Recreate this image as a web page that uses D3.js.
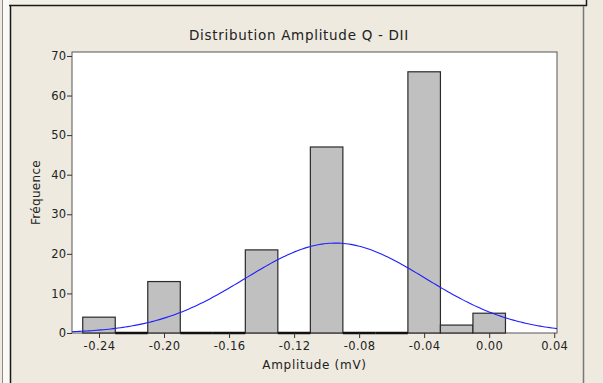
<!DOCTYPE html>
<html>
<head>
<meta charset="utf-8">
<script src="https://cdn.jsdelivr.net/npm/d3@7"></script>
<style>
  html, body { margin: 0; padding: 0; background: #eeeae0; }
  svg { display: block; }
  text { font-family: "DejaVu Sans", sans-serif; fill: #222; }
</style>
</head>
<body>
<div id="chart"></div>
<script>
// Data
var binCenters = [-0.24, -0.22, -0.20, -0.18, -0.16, -0.14, -0.12, -0.10, -0.08, -0.06, -0.04, -0.02, 0.00];
var counts     = [4, 0, 13, 0, 0, 21, 0, 47, 0, 0, 66, 2, 5];
var binWidth = 0.02;
var xTicks = [-0.24, -0.20, -0.16, -0.12, -0.08, -0.04, 0.00, 0.04];
var yTicks = [0, 10, 20, 30, 40, 50, 60, 70];
// normal fit parameters (estimated)
var fitMean = -0.0946;
var fitSd = 0.0555;

var width = 603, height = 383;
var plot = {left: 72, right: 557, top: 52, bottom: 333};

var svg = d3.select("#chart").append("svg")
    .attr("width", width)
    .attr("height", height);

// frame of the graph window
svg.append("rect").attr("x", 0).attr("y", 0).attr("width", width).attr("height", height).attr("fill", "#eeeae0");
svg.append("rect").attr("x", 3).attr("y", 0).attr("width", 7).attr("height", height).attr("fill", "#fbfaf7");
svg.append("line").attr("x1", 2.5).attr("x2", 2.5).attr("y1", 0).attr("y2", height).attr("stroke", "#8a8a8a");
svg.append("rect").attr("x", 9).attr("y", 0).attr("width", 577).attr("height", 5).attr("fill", "#f3f0e8");
svg.append("line").attr("x1", 9).attr("x2", 587).attr("y1", 5.5).attr("y2", 5.5).attr("stroke", "#1a1a1a").attr("stroke-width", 1.5);
svg.append("line").attr("x1", 586.5).attr("x2", 586.5).attr("y1", 0).attr("y2", 6).attr("stroke", "#1a1a1a").attr("stroke-width", 1.5);
svg.append("line").attr("x1", 10.5).attr("x2", 10.5).attr("y1", 5).attr("y2", height).attr("stroke", "#1a1a1a").attr("stroke-width", 1.5);
svg.append("line").attr("x1", 583.5).attr("x2", 583.5).attr("y1", 6).attr("y2", height).attr("stroke", "#777").attr("stroke-width", 1.5);

var x = d3.scaleLinear().domain([-0.2566, 0.0417]).range([plot.left, plot.right]);
var y = d3.scaleLinear().domain([0, 71]).range([plot.bottom, plot.top]);

// plot area
svg.append("rect")
    .attr("x", plot.left).attr("y", plot.top)
    .attr("width", plot.right - plot.left).attr("height", plot.bottom - plot.top)
    .attr("fill", "#fff").attr("stroke", "#555").attr("stroke-width", 1);

// bars
var bars = binCenters.map(function(c, i){ return {c: c, n: counts[i]}; });
svg.selectAll("rect.bar")
    .data(bars.filter(function(d){ return d.n > 0; }))
    .enter().append("rect")
    .attr("class", "bar")
    .attr("x", function(d){ return x(d.c - binWidth/2); })
    .attr("y", function(d){ return y(d.n); })
    .attr("width", function(d){ return x(d.c + binWidth/2) - x(d.c - binWidth/2); })
    .attr("height", function(d){ return y(0) - y(d.n); })
    .attr("fill", "#c0c0c0")
    .attr("stroke", "#2a2a2a")
    .attr("stroke-width", 1.2);

// empty bins drawn as a heavy line on the base
svg.selectAll("line.empty")
    .data(bars.filter(function(d){ return d.n === 0; }))
    .enter().append("line")
    .attr("class", "empty")
    .attr("x1", function(d){ return x(d.c - binWidth/2); })
    .attr("x2", function(d){ return x(d.c + binWidth/2); })
    .attr("y1", y(0)).attr("y2", y(0))
    .attr("stroke", "#111").attr("stroke-width", 2.5);

// normal fit curve
var total = d3.sum(counts);
var xs = d3.range(0, 201).map(function(i){ return -0.2566 + i * (0.0417 + 0.2566) / 200; });
var fit = xs.map(function(v){
    var z = (v - fitMean) / fitSd;
    return [v, total * binWidth * Math.exp(-0.5 * z * z) / (fitSd * Math.sqrt(2 * Math.PI))];
});
svg.append("path")
    .datum(fit)
    .attr("fill", "none")
    .attr("stroke", "#1f1fff")
    .attr("stroke-width", 1.1)
    .attr("d", d3.line().x(function(d){ return x(d[0]); }).y(function(d){ return y(d[1]); }));

// axes
var xAxis = svg.append("g")
    .attr("transform", "translate(0," + plot.bottom + ")")
    .call(d3.axisBottom(x).tickValues(xTicks).tickSize(5).tickPadding(4)
        .tickFormat(function(d){ return d3.format(".2f")(d).replace("−", "-"); }));
xAxis.select(".domain").remove();
xAxis.selectAll("text").style("font-size", "11.5px").style("letter-spacing", "0.4px").attr("fill", "#222");
xAxis.selectAll("line").attr("stroke", "#333");

var yAxis = svg.append("g")
    .attr("transform", "translate(" + plot.left + ",0)")
    .call(d3.axisLeft(y).tickValues(yTicks).tickSize(5).tickPadding(1));
yAxis.select(".domain").remove();
yAxis.selectAll("text").style("font-size", "11.5px").attr("fill", "#222");
yAxis.selectAll("line").attr("stroke", "#333");

// titles
svg.append("text")
    .attr("x", 299).attr("y", 40)
    .attr("text-anchor", "middle")
    .style("font-size", "13.5px")
    .style("letter-spacing", "0.7px")
    .text("Distribution Amplitude Q - DII");

svg.append("text")
    .attr("x", (plot.left + plot.right) / 2).attr("y", 369)
    .attr("text-anchor", "middle")
    .style("font-size", "12px")
    .style("letter-spacing", "0.7px")
    .text("Amplitude (mV)");

svg.append("text")
    .attr("transform", "translate(40," + (plot.top + plot.bottom) / 2 + ")rotate(-90)")
    .attr("text-anchor", "middle")
    .style("font-size", "12px")
    .style("letter-spacing", "0.3px")
    .text("Fréquence");
</script>
</body>
</html>
